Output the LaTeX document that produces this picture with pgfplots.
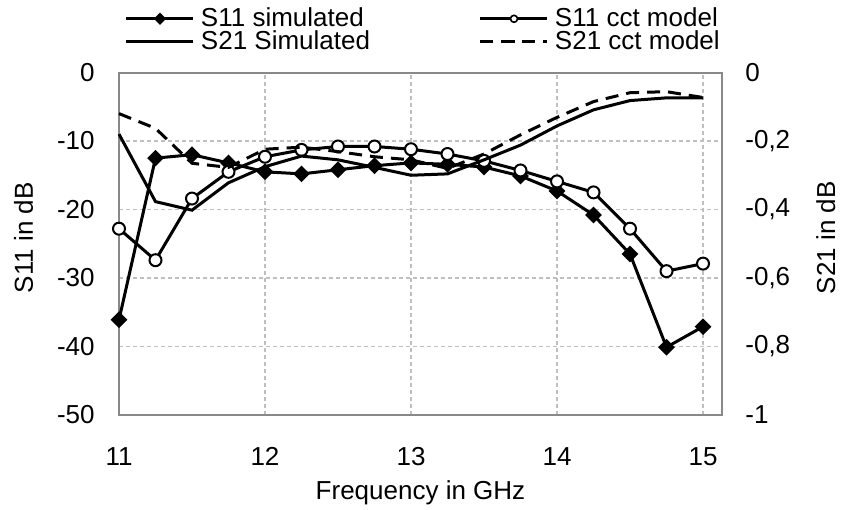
\documentclass[border=0pt]{standalone}
\usepackage{fontspec}
\setmainfont{Liberation Sans}
\usepackage{pgfplots}
\pgfplotsset{compat=1.18}
\definecolor{gridc}{HTML}{BFBFBF}
\definecolor{axc}{HTML}{898989}
\newcommand{\fs}{\fontsize{13}{15.6}\selectfont}
\begin{document}
\begin{tikzpicture}
\pgfplotsset{
  base/.style={
    scale only axis, width=301.5pt, height=171.25pt,
    xmin=11, xmax=15.13,
    clip=false,
    tick style={draw=none},
    axis line style={draw=axc, line width=1pt},
    tick label style={font=\fs},
    label style={font=\fs},
    legend image code/.code={\draw[mark repeat=2,mark phase=2,##1] plot coordinates {(0pt,0pt)(16.75pt,0pt)(33.5pt,0pt)};},
    legend style={draw=none, fill=none, inner sep=0pt, outer sep=0pt, font=\fs,
      row sep=0pt,
      nodes={inner sep=0pt, text height=9.5pt, text depth=2pt},
      /tikz/every odd column/.append style={column sep=3pt}},
    legend cell align=left,
  },
  s11sim/.style={black, line width=1.5pt, mark=square*, mark size=2.2pt, mark options={rotate=45, solid, fill=black}},
  s11cct/.style={black, line width=1.5pt, mark=*, mark size=3pt, mark options={solid, fill=white, line width=1pt}},
  s21sim/.style={black, line width=1.5pt, no marks},
  s21cct/.style={black, line width=1.5pt, no marks, dash pattern=on 6.5pt off 4pt},
}
\begin{axis}[base,
  at={(0,0)}, anchor=south west,
  ymin=-50, ymax=0,
  xtick={11,12,13,14,15}, xticklabels={11,12,13,14,15},
  ytick={-50,-40,-30,-20,-10,0}, yticklabels={-50,-40,-30,-20,-10,0},
  grid=major, grid style={gridc, line width=0.6pt, dash pattern=on 2pt off 1.5pt},
  xticklabel style={anchor=base, inner sep=0pt, yshift=-25pt},
  yticklabel style={anchor=east, inner sep=0pt, xshift=-12pt},
  xlabel={Frequency in GHz},
  xlabel style={at={(axis description cs:0.5,0)}, anchor=base, yshift=-42pt},
  ylabel={S11 in dB},
  ylabel style={at={(axis description cs:0,0.5)}, anchor=base, yshift=43pt, xshift=3pt},
  legend style={at={(axis description cs:0,1)}, anchor=north west, xshift=3pt, yshift=32.6pt},
]
\addplot[s11sim, legend image post style={mark size=1.4pt}] coordinates {
(11,-36.1) (11.25,-12.5) (11.5,-12.0) (11.75,-13.2) (12,-14.5) (12.25,-14.8)
(12.5,-14.2) (12.75,-13.6) (13,-13.2) (13.25,-13.4) (13.5,-13.8) (13.75,-15.1)
(14,-17.3) (14.25,-20.8) (14.5,-26.5) (14.75,-40.1) (15,-37.1)};
\addlegendentry{S11 simulated}
\addlegendimage{s21sim}
\addlegendentry{S21 Simulated}
\addplot[s11cct, forget plot] coordinates {
(11,-22.8) (11.25,-27.4) (11.5,-18.4) (11.75,-14.5) (12,-12.3) (12.25,-11.3)
(12.5,-10.8) (12.75,-10.8) (13,-11.2) (13.25,-11.9) (13.5,-12.9) (13.75,-14.3)
(14,-15.9) (14.25,-17.5) (14.5,-22.8) (14.75,-29.0) (15,-27.9)};
\end{axis}
\begin{axis}[base,
  at={(0,0)}, anchor=south west,
  ymin=-1, ymax=0,
  hide x axis,
  axis y line*=right,
  ytick={-1,-0.8,-0.6,-0.4,-0.2,0}, yticklabels={-1,{-0,8},{-0,6},{-0,4},{-0,2},0},
  yticklabel style={anchor=west, inner sep=0pt, xshift=11.5pt},
  ylabel={S21 in dB},
  ylabel style={at={(axis description cs:1,0.5)}, anchor=base, yshift=-56.5pt, xshift=3pt},
  legend style={at={(axis description cs:0,1)}, anchor=north west, xshift=180pt, yshift=32.6pt},
]
\addlegendimage{s11cct, mark size=1.75pt, mark options={solid, fill=white, line width=0.8pt}}
\addlegendentry{S11 cct model}
\addplot[s21sim, forget plot] coordinates {
(11,-0.180) (11.25,-0.377) (11.5,-0.402) (11.75,-0.322) (12,-0.275) (12.25,-0.244)
(12.5,-0.255) (12.75,-0.277) (13,-0.300) (13.25,-0.296) (13.5,-0.255) (13.75,-0.212)
(14,-0.156) (14.25,-0.109) (14.5,-0.082) (14.75,-0.074) (15,-0.074)};
\addplot[s21cct] coordinates {
(11,-0.120) (11.25,-0.163) (11.5,-0.265) (11.75,-0.277) (12,-0.224) (12.25,-0.218)
(12.5,-0.231) (12.75,-0.246) (13,-0.255) (13.25,-0.280) (13.5,-0.238) (13.75,-0.182)
(14,-0.131) (14.25,-0.085) (14.5,-0.059) (14.75,-0.056) (15,-0.073)};
\addlegendentry{S21 cct model}
\end{axis}
\pgfresetboundingbox
\useasboundingbox (-59.5pt,-47.5pt) rectangle (362pt,207.5pt);
\end{tikzpicture}
\end{document}
